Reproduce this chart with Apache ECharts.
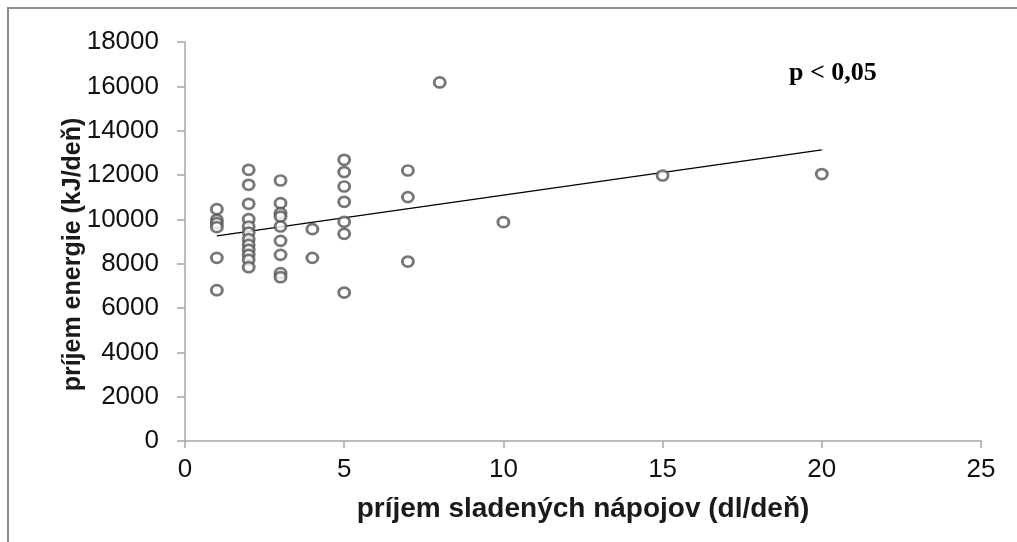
<!DOCTYPE html>
<html>
<head>
<meta charset="utf-8">
<script src="https://cdn.jsdelivr.net/npm/echarts@6/dist/echarts.min.js"></script>
<style>
html,body{margin:0;padding:0;background:#fff;}
#c{width:1017px;height:542px;}
</style>
</head>
<body>
<div id="c"></div>
<script>
// data: [drinks dl/day, energy kJ/day]
const drinks = [1,1,1,1,1,1,
  2,2,2,2,2,2,2,2,2,2,2,2,
  3,3,3,3,3,3,3,3,3,
  4,4,
  5,5,5,5,5,5,5,
  7,7,7,
  8,10,15,20];
const energy = [10460,9977,9828,9648,8262,6804,
  12235,11558,10700,10009,9675,9404,9106,8849,8623,8397,8172,7842,
  11752,10731,10280,10126,9675,9029,8397,7571,7391,
  9558,8262,
  12686,12131,11481,10790,9887,9345,6695,
  12203,11002,8095,
  16176,9874,11977,12041];
const trendX = [1, 20];
const trendY = [9255, 13138];
const xTicks = {min: 0, max: 25, interval: 5};
const yTicks = {min: 0, max: 18000, interval: 2000};
const xTitle = 'príjem sladených nápojov (dl/deň)';
const yTitle = 'príjem energie (kJ/deň)';
const note = 'p < 0,05';

const points = drinks.map((d, i) => [d, energy[i]]);
const trend = trendX.map((d, i) => [d, trendY[i]]);

const chart = echarts.init(document.getElementById('c'), null, {renderer: 'canvas'});
const axisCol = '#a6a6a6';
chart.setOption({
  animation: false,
  backgroundColor: '#fff',
  grid: {left: 185, right: 36, top: 42, bottom: 101, containLabel: false},
  xAxis: {
    type: 'value', min: xTicks.min, max: xTicks.max, interval: xTicks.interval,
    name: xTitle, nameLocation: 'middle', nameGap: 54, nameMoveOverlap: false,
    nameTextStyle: {fontFamily: 'Liberation Sans', fontWeight: 'bold', fontSize: 28, color: '#1a1a1a'},
    axisLine: {show: true, lineStyle: {color: axisCol, width: 1.5}},
    axisTick: {show: true, inside: false, length: 7, lineStyle: {color: axisCol, width: 1.5}},
    axisLabel: {fontFamily: 'Liberation Sans', fontSize: 26, color: '#111', margin: 16},
    splitLine: {show: false}
  },
  yAxis: {
    type: 'value', min: yTicks.min, max: yTicks.max, interval: yTicks.interval,
    name: yTitle, nameLocation: 'middle', nameGap: 99, nameMoveOverlap: false,
    nameTextStyle: {fontFamily: 'Liberation Sans', fontWeight: 'bold', fontSize: 25, color: '#1a1a1a', padding: [0, 26, 0, 0]},
    axisLine: {show: true, lineStyle: {color: axisCol, width: 1.5}},
    axisTick: {show: true, inside: false, length: 8, lineStyle: {color: axisCol, width: 1.5}},
    axisLabel: {fontFamily: 'Liberation Sans', fontSize: 26, color: '#111', margin: 26,
      formatter: v => String(v)},
    splitLine: {show: false}
  },
  graphic: [
    {type: 'polyline', silent: true, shape: {points: [[8, 542], [8, 8], [1017, 8]]},
     style: {stroke: '#8c8c8c', lineWidth: 2, fill: null}},
    {type: 'text', left: 789, top: 60, style: {text: note, font: 'bold 26px "Liberation Serif"', fill: '#000'}}
  ],
  series: [
    {type: 'scatter', data: points, symbol: 'circle', symbolSize: [11, 10],
     itemStyle: {color: '#fff', borderColor: '#555', borderWidth: 2.8}, z: 3},
    {type: 'line', data: trend, symbol: 'none', lineStyle: {color: '#000', width: 1.3}, z: 2}
  ]
});
</script>
</body>
</html>
